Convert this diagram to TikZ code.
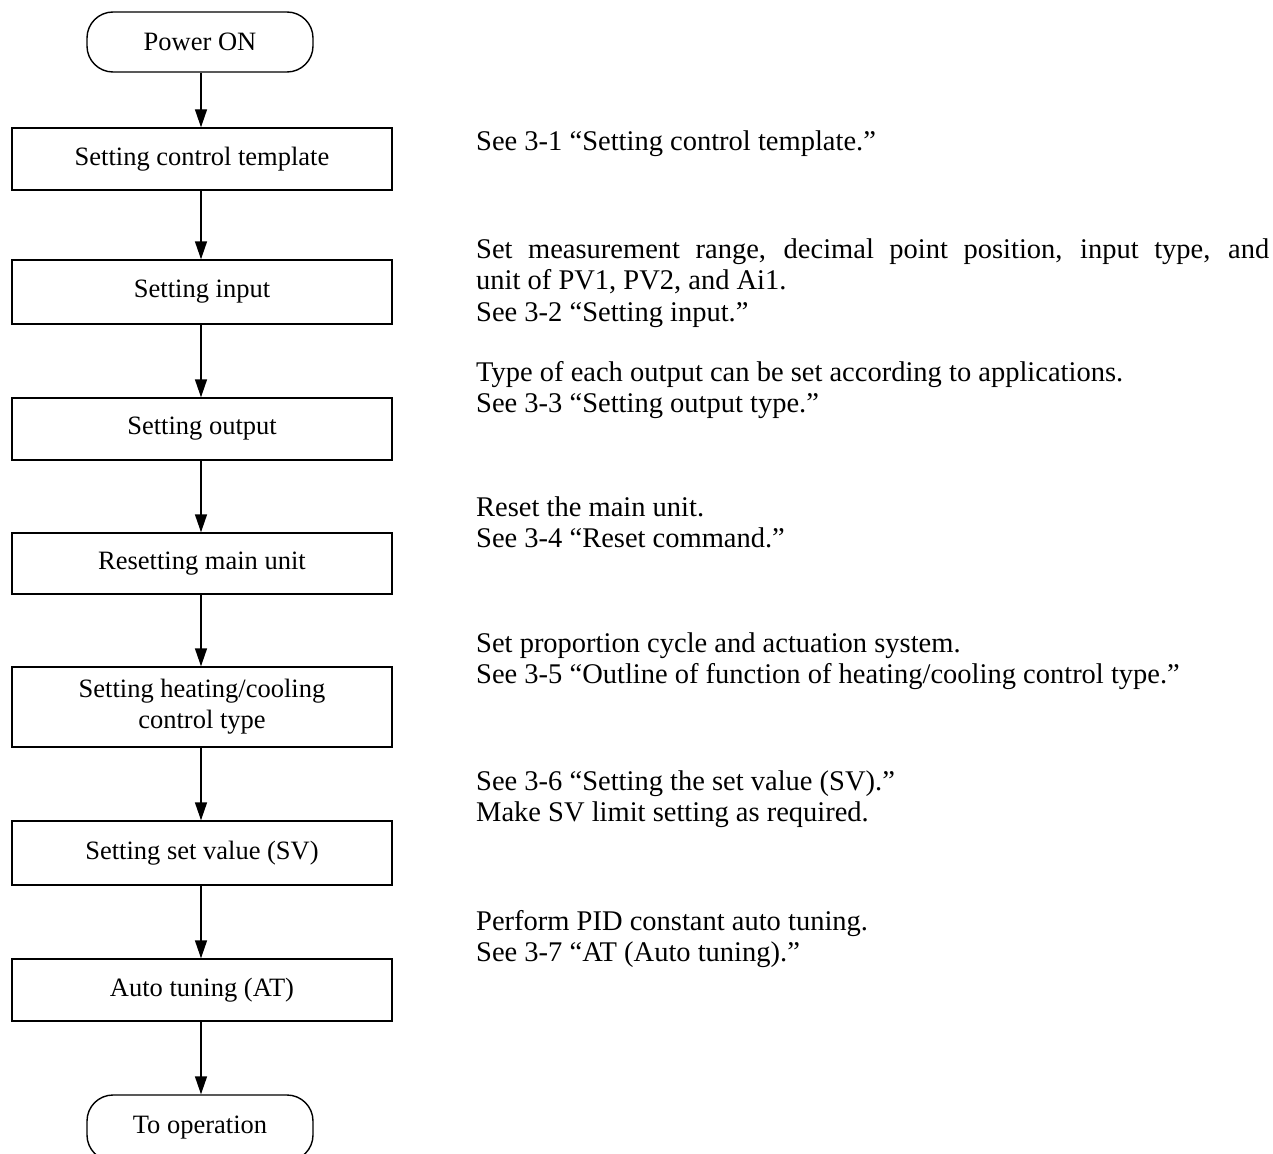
\documentclass[tikz,border=0pt]{standalone}
\usepackage{fontspec}
\setmainfont{Liberation Serif}
\usetikzlibrary{arrows.meta}
\begin{document}
\begin{tikzpicture}[x=1pt,y=-1pt,
  boxfont/.style={font=\fontsize{26.5}{31}\selectfont},
  stepbox/.style={boxfont,draw,line width=1.4pt,minimum width=380pt,inner sep=0pt,align=center},
  term/.style={boxfont,draw,line width=1.4pt,rounded corners=26pt,minimum width=226pt,minimum height=60pt,inner sep=0pt},
  note/.style={font=\fontsize{28.5}{31.6}\selectfont,anchor=base west,inner sep=0pt,text width=793pt,align=justify},
  flow/.style={line width=1.4pt,-{Triangle[length=18pt,width=12pt]}}]
\useasboundingbox (0,0) rectangle (1273,1153);
\node[term] (start) at (200,42) {Power ON};
\node[stepbox,minimum height=62pt] (b1) at (202,159) {Setting control template};
\node[stepbox,minimum height=64pt] (b2) at (202,292) {Setting input};
\node[stepbox,minimum height=62pt] (b3) at (202,429) {Setting output};
\node[stepbox,minimum height=61pt] (b4) at (202,563.5) {Resetting main unit};
\node[stepbox,minimum height=80pt] (b5) at (202,707) {Setting heating/cooling\\control type};
\node[stepbox,minimum height=64pt] (b6) at (202,853) {Setting set value (SV)};
\node[stepbox,minimum height=62pt] (b7) at (202,990) {Auto tuning (AT)};
\node[term,minimum height=66pt] (end) at (200,1128) {To operation};
\foreach \a/\b in {start/b1,b1/b2,b2/b3,b3/b4,b4/b5,b5/b6,b6/b7,b7/end}
  \draw[flow] (\a.south -| 201,0) -- (\b.north -| 201,0);
\node[note] (n1) at (476,150) {See 3-1 “Setting control template.”};
\node[note] (n2) at (476,258) {Set measurement range, decimal point position, input type, and\linebreak unit of PV1, PV2, and Ai1.\\See 3-2 “Setting input.”};
\node[note] (n3) at (476,381) {Type of each output can be set according to applications.\\See 3-3 “Setting output type.”};
\node[note] (n4) at (476,516) {Reset the main unit.\\See 3-4 “Reset command.”};
\node[note] (n5) at (476,652) {Set proportion cycle and actuation system.\\See 3-5 “Outline of function of heating/cooling control type.”};
\node[note] (n6) at (476,790) {See 3-6 “Setting the set value (SV).”\\Make SV limit setting as required.};
\node[note] (n7) at (476,930) {Perform PID constant auto tuning.\\See 3-7 “AT (Auto tuning).”};
\end{tikzpicture}
\end{document}
